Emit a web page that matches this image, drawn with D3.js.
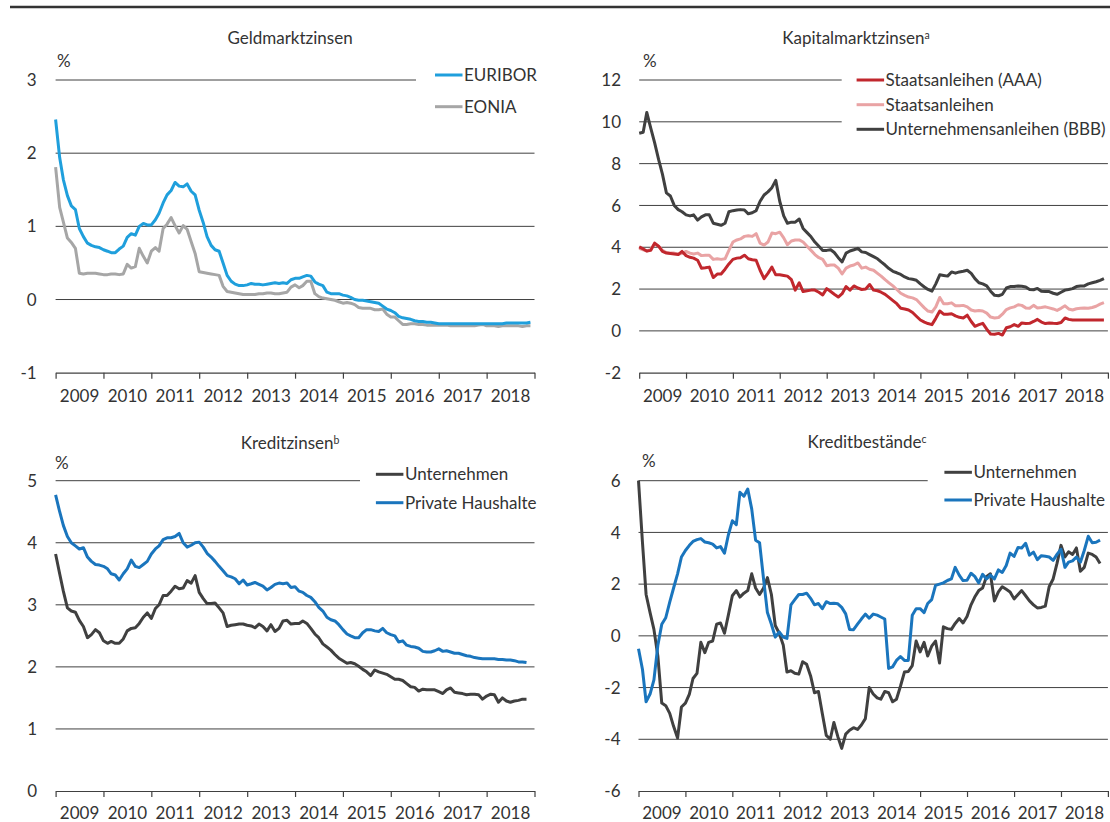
<!DOCTYPE html>
<html><head><meta charset="utf-8">
<script src="https://cdn.jsdelivr.net/npm/d3@7"></script>
<style>
body{margin:0;background:#fff;}
svg text{font-family:Lato,"Open Sans",sans-serif;fill:#333;}
</style></head><body>
<svg id="c" width="1110" height="822"></svg>
<script>
// ---------- data (monthly, starting January 2009) ----------
const years = [2009,2010,2011,2012,2013,2014,2015,2016,2017,2018];

// Geldmarktzinsen
const euribor = [2.46,1.94,1.64,1.42,1.28,1.23,0.97,0.86,0.77,0.74,0.72,0.71,
0.68,0.66,0.64,0.64,0.69,0.73,0.85,0.90,0.88,1.00,1.04,1.02,
1.02,1.09,1.18,1.32,1.43,1.49,1.60,1.55,1.54,1.58,1.48,1.43,
1.22,1.05,0.86,0.74,0.68,0.66,0.50,0.33,0.25,0.21,0.19,0.19,
0.20,0.22,0.21,0.21,0.20,0.21,0.22,0.23,0.22,0.23,0.22,0.27,
0.29,0.29,0.31,0.33,0.32,0.24,0.21,0.19,0.10,0.08,0.08,0.08,
0.06,0.05,0.03,0.00,-0.01,-0.01,-0.02,-0.03,-0.04,-0.05,-0.09,-0.13,
-0.15,-0.18,-0.23,-0.25,-0.26,-0.27,-0.29,-0.30,-0.30,-0.31,-0.31,-0.32,
-0.33,-0.33,-0.33,-0.33,-0.33,-0.33,-0.33,-0.33,-0.33,-0.33,-0.33,-0.33,
-0.33,-0.33,-0.33,-0.33,-0.33,-0.32,-0.32,-0.32,-0.32,-0.32,-0.32,-0.31];
const eonia = [1.81,1.26,1.06,0.84,0.78,0.70,0.36,0.35,0.36,0.36,0.36,0.35,
0.34,0.34,0.35,0.35,0.34,0.35,0.48,0.43,0.45,0.70,0.59,0.50,
0.66,0.71,0.66,0.97,1.03,1.12,1.01,0.91,1.01,0.96,0.79,0.63,
0.38,0.37,0.36,0.35,0.34,0.33,0.18,0.11,0.10,0.09,0.08,0.07,
0.07,0.07,0.07,0.08,0.08,0.09,0.09,0.08,0.08,0.09,0.10,0.17,
0.20,0.16,0.19,0.25,0.25,0.08,0.04,0.02,0.01,0.00,-0.01,-0.03,
-0.05,-0.04,-0.05,-0.07,-0.11,-0.12,-0.12,-0.12,-0.14,-0.14,-0.13,-0.20,
-0.24,-0.24,-0.29,-0.34,-0.34,-0.33,-0.33,-0.34,-0.34,-0.35,-0.35,-0.35,
-0.35,-0.35,-0.35,-0.36,-0.36,-0.36,-0.36,-0.36,-0.36,-0.36,-0.35,-0.34,
-0.36,-0.36,-0.36,-0.37,-0.36,-0.36,-0.36,-0.36,-0.36,-0.37,-0.36,-0.36];

// Kapitalmarktzinsen
const staatAAA = [4.02,3.92,3.82,3.85,4.2,4.05,3.8,3.72,3.7,3.68,3.65,3.8,
3.6,3.52,3.48,3.38,3.0,3.02,3.05,2.55,2.72,2.72,2.95,3.2,
3.42,3.48,3.5,3.62,3.45,3.4,3.38,2.9,2.5,2.75,3.05,2.68,
2.68,2.65,2.62,2.45,1.95,2.3,1.88,1.92,1.95,1.95,1.85,1.72,
2.02,1.88,1.75,1.62,1.78,2.12,1.95,2.15,2.05,1.98,2.0,2.22,
1.95,1.92,1.85,1.75,1.6,1.45,1.3,1.08,1.05,1.0,0.88,0.7,
0.52,0.42,0.35,0.3,0.6,0.95,0.8,0.8,0.82,0.72,0.65,0.62,
0.75,0.45,0.22,0.3,0.36,0.08,-0.15,-0.16,-0.12,-0.2,0.15,0.2,
0.3,0.22,0.38,0.35,0.36,0.45,0.55,0.42,0.35,0.38,0.36,0.35,
0.4,0.62,0.55,0.52,0.52,0.52,0.52,0.52,0.52,0.52,0.52,0.52];
const staat = [3.95,3.88,3.82,3.9,4.15,4.05,3.85,3.75,3.72,3.72,3.68,3.7,
3.8,3.72,3.68,3.72,3.6,3.62,3.62,3.42,3.45,3.42,3.45,3.85,
4.25,4.35,4.4,4.52,4.55,4.52,4.65,4.2,4.1,4.25,4.68,4.65,
4.72,4.45,4.12,4.3,4.35,4.35,4.25,4.05,3.85,3.65,3.5,3.42,
3.12,3.15,3.15,3.0,2.72,3.0,3.1,3.15,3.25,3.0,3.05,2.95,
2.9,2.75,2.62,2.45,2.3,2.15,1.98,1.8,1.7,1.62,1.58,1.5,
1.3,1.1,0.95,0.9,1.15,1.6,1.3,1.3,1.34,1.2,1.2,1.22,
1.15,1.0,0.95,0.98,0.95,0.85,0.66,0.62,0.64,0.8,1.02,1.1,
1.15,1.25,1.22,1.1,1.08,1.22,1.1,1.12,1.15,1.1,1.05,0.98,
1.08,1.2,1.05,1.0,1.06,1.08,1.1,1.08,1.12,1.18,1.28,1.35];
const untBBB = [9.45,9.5,10.45,9.7,9.0,8.2,7.5,6.6,6.45,6.0,5.8,5.7,
5.55,5.5,5.55,5.3,5.45,5.55,5.55,5.15,5.1,5.05,5.15,5.7,
5.75,5.78,5.8,5.78,5.6,5.65,5.75,6.2,6.5,6.65,6.85,7.2,
6.2,5.5,5.15,5.2,5.2,5.35,4.9,4.7,4.5,4.25,4.05,3.85,
3.85,3.88,3.75,3.5,3.3,3.72,3.82,3.88,3.95,3.78,3.75,3.65,
3.55,3.45,3.3,3.15,2.98,2.85,2.78,2.7,2.58,2.5,2.47,2.42,
2.25,2.1,1.98,1.9,2.25,2.68,2.65,2.62,2.82,2.76,2.82,2.85,
2.9,2.75,2.5,2.3,2.25,2.15,1.9,1.7,1.68,1.75,2.05,2.12,
2.12,2.15,2.13,2.1,1.98,1.97,2.03,1.9,1.88,1.88,1.8,1.75,
1.85,1.95,1.98,2.02,2.12,2.15,2.15,2.25,2.3,2.35,2.42,2.5];

// Kreditzinsen
const kzUnternehmen = [3.82,3.5,3.22,2.95,2.9,2.88,2.75,2.65,2.47,2.52,2.6,2.55,
2.42,2.38,2.41,2.38,2.38,2.45,2.58,2.62,2.63,2.7,2.8,2.87,
2.78,2.94,3.0,3.15,3.15,3.22,3.3,3.26,3.27,3.39,3.35,3.47,
3.2,3.1,3.02,3.02,3.03,2.95,2.87,2.65,2.67,2.68,2.69,2.69,
2.67,2.66,2.63,2.69,2.65,2.58,2.68,2.57,2.62,2.74,2.75,2.69,
2.7,2.7,2.74,2.7,2.62,2.53,2.47,2.37,2.32,2.27,2.2,2.14,
2.1,2.06,2.07,2.05,2.01,1.96,1.92,1.86,1.95,1.92,1.9,1.88,
1.84,1.8,1.8,1.78,1.73,1.68,1.67,1.61,1.64,1.63,1.63,1.63,
1.6,1.57,1.63,1.66,1.59,1.58,1.57,1.55,1.56,1.56,1.55,1.48,
1.53,1.56,1.55,1.43,1.5,1.45,1.43,1.45,1.46,1.48,1.48];
const kzHaushalte = [4.77,4.5,4.28,4.1,4.0,3.95,3.9,3.92,3.77,3.7,3.65,3.64,
3.62,3.58,3.5,3.48,3.4,3.5,3.58,3.72,3.62,3.6,3.65,3.7,
3.82,3.9,3.95,4.05,4.08,4.08,4.1,4.15,4.0,3.93,3.96,4.0,
4.01,3.93,3.83,3.77,3.7,3.62,3.55,3.47,3.45,3.42,3.34,3.4,
3.32,3.34,3.36,3.33,3.3,3.24,3.28,3.33,3.35,3.34,3.35,3.28,
3.29,3.22,3.2,3.15,3.12,3.05,2.96,2.9,2.8,2.76,2.74,2.68,
2.6,2.53,2.5,2.47,2.47,2.55,2.6,2.6,2.58,2.57,2.62,2.55,
2.52,2.5,2.4,2.42,2.35,2.33,2.32,2.3,2.25,2.24,2.24,2.26,
2.29,2.25,2.26,2.24,2.22,2.22,2.2,2.18,2.17,2.15,2.14,2.13,
2.13,2.13,2.13,2.12,2.12,2.11,2.11,2.1,2.08,2.08,2.07];

// Kreditbestände
const kbUnternehmen = [6.0,3.6,1.6,0.9,0.25,-0.8,-2.6,-2.7,-3.0,-3.5,-3.95,-2.75,
-2.6,-2.25,-1.65,-1.45,-0.25,-0.65,-0.25,-0.2,0.45,0.5,0.1,0.8,
1.55,1.75,1.5,1.65,1.75,2.4,1.85,1.6,1.85,2.25,1.6,0.4,
0.1,-0.35,-1.4,-1.35,-1.45,-1.48,-1.0,-1.1,-1.55,-2.2,-2.15,-3.0,
-3.85,-4.0,-3.35,-3.9,-4.35,-3.8,-3.65,-3.55,-3.62,-3.45,-3.2,-2.0,
-2.25,-2.4,-2.45,-2.15,-2.2,-2.55,-2.45,-1.95,-1.4,-1.38,-1.15,-0.2,
-0.62,-0.25,-0.78,-0.4,-0.2,-1.05,0.35,0.28,0.25,0.48,0.67,0.5,
0.75,1.2,1.5,1.75,1.85,2.3,2.4,1.35,1.7,1.9,1.8,1.7,
1.43,1.6,1.75,1.55,1.35,1.2,1.08,1.1,1.15,1.9,2.2,2.8,
3.5,3.05,3.25,3.15,3.4,2.5,2.65,3.2,3.15,3.05,2.8];
const kbHaushalte = [-0.5,-1.3,-2.55,-2.25,-1.7,-0.35,0.45,0.7,1.3,1.85,2.4,3.05,
3.3,3.5,3.65,3.72,3.76,3.63,3.6,3.55,3.4,3.45,3.2,3.9,
4.45,4.3,5.55,5.4,5.68,4.9,3.7,3.6,2.2,0.9,0.45,-0.05,
0.15,-0.05,-0.1,1.2,1.4,1.6,1.6,1.65,1.45,1.2,1.25,1.05,
1.32,1.25,1.26,1.24,1.1,0.85,0.25,0.24,0.45,0.65,0.84,0.68,
0.84,0.8,0.73,0.65,-1.26,-1.2,-0.95,-0.8,-0.95,-0.95,0.8,1.05,
1.05,0.9,1.25,1.4,1.95,2.0,2.05,2.14,2.2,2.65,2.35,2.14,
2.15,2.42,2.3,2.05,2.38,2.2,2.35,2.2,2.55,2.45,2.72,3.2,
3.07,3.42,3.4,3.58,3.12,3.24,2.95,3.1,3.08,3.05,2.92,3.15,
3.35,2.65,2.85,2.9,3.05,2.85,3.3,3.85,3.6,3.62,3.7];

// ---------- layout ----------
const C_DARK = "#404040";
const panels = [
 {title:"Geldmarktzinsen", sup:"", tx:290, ty:43.5,
  x0:55.6, x1:534.5, yTop:80, yBot:372.7, domain:[-1,3], ticks:[-1,0,1,2,3],
  cut:{3:416}, labX:36.7, pctX:57, pctY:66.5, yearY:402,
  legX:435, legY:[75,106.7],
  series:[{name:"EURIBOR",values:euribor,color:"#1f9fdc"},{name:"EONIA",values:eonia,color:"#a6a6a6"}],
  order:[1,0]},
 {title:"Kapitalmarktzinsen", sup:"a", tx:856, ty:43.5,
  x0:639.2, x1:1107.9, yTop:80, yBot:372.7, domain:[-2,12], ticks:[-2,0,2,4,6,8,10,12],
  cut:{12:841.7,10:841.7}, labX:621, pctX:643, pctY:66.5, yearY:402,
  legX:856.6, legY:[80,104.7,129.3],
  series:[{name:"Staatsanleihen (AAA)",values:staatAAA,color:"#c1272d"},
          {name:"Staatsanleihen",values:staat,color:"#e9a3a4"},
          {name:"Unternehmensanleihen (BBB)",values:untBBB,color:C_DARK}],
  order:[1,0,2]},
 {title:"Kreditzinsen", sup:"b", tx:290, ty:449.3,
  x0:55.6, x1:534.5, yTop:480.7, yBot:791, domain:[0,5], ticks:[0,1,2,3,4,5],
  cut:{5:360}, labX:37, pctX:55, pctY:469, yearY:818.5,
  legX:375.9, legY:[474.3,502.7],
  series:[{name:"Unternehmen",values:kzUnternehmen,color:C_DARK},{name:"Private Haushalte",values:kzHaushalte,color:"#1a75bd"}],
  order:[0,1]},
 {title:"Kreditbestände", sup:"c", tx:867, ty:447.5,
  x0:638.5, x1:1107.9, yTop:480.7, yBot:791, domain:[-6,6], ticks:[-6,-4,-2,0,2,4,6],
  cut:{6:927.7}, labX:620.5, pctX:642, pctY:467, yearY:818.5,
  legX:944.4, legY:[472.3,500],
  series:[{name:"Unternehmen",values:kbUnternehmen,color:C_DARK},{name:"Private Haushalte",values:kbHaushalte,color:"#1a75bd"}],
  order:[0,1]}
];

const FS = 17;
const svg = d3.select("#c");
svg.append("rect").attr("width",1110).attr("height",822).attr("fill","#fff");
svg.append("line").attr("x1",10).attr("x2",1110).attr("y1",7).attr("y2",7)
   .attr("stroke","#333").attr("stroke-width",2.5);

const t0 = new Date(2009,0,1), t1 = new Date(2019,0,1);
const monthDate = i => new Date(2009, i, 1);

panels.forEach(p => {
  const x = d3.scaleTime().domain([t0,t1]).range([p.x0,p.x1]);
  const y = d3.scaleLinear().domain(p.domain).range([p.yBot,p.yTop]);
  const g = svg.append("g");

  // gridlines
  p.ticks.filter(t => t !== p.domain[0]).forEach(t => {
    g.append("line").attr("x1",p.x0).attr("x2",p.cut[t] || p.x1)
      .attr("y1",y(t)).attr("y2",y(t)).attr("stroke",C_DARK).attr("stroke-width",1);
  });
  // y labels
  g.selectAll(".yl").data(p.ticks).enter().append("text")
    .attr("x",p.labX).attr("y",d=>y(d)).attr("dy","0.36em")
    .attr("text-anchor","end").attr("font-size",FS).text(d=>d);

  // x axis
  const ax = d3.axisBottom(x)
    .tickValues(d3.timeYear.range(t0, new Date(2019,0,2)))
    .tickSize(6).tickSizeOuter(0).tickFormat("");
  const axg = g.append("g").attr("transform",`translate(0,${p.yBot})`).call(ax);
  axg.selectAll("path,line").attr("stroke",C_DARK).attr("stroke-width",1.2);

  // year labels
  g.selectAll(".yr").data(years).enter().append("text")
    .attr("x",d=>(x(new Date(d,0,1))+x(new Date(d+1,0,1)))/2)
    .attr("y",p.yearY).attr("text-anchor","middle").attr("font-size",FS).text(d=>d);

  // series
  const line = d3.line().x((d,i)=>x(monthDate(i))).y(d=>y(d));
  p.order.forEach(k => {
    const s = p.series[k];
    g.append("path").datum(s.values).attr("d",line)
      .attr("fill","none").attr("stroke",s.color).attr("stroke-width",3)
      .attr("stroke-linejoin","round");
  });

  // legend
  p.series.forEach((s,k) => {
    g.append("line").attr("x1",p.legX).attr("x2",p.legX+27.5)
      .attr("y1",p.legY[k]).attr("y2",p.legY[k])
      .attr("stroke",s.color).attr("stroke-width",3);
    g.append("text").attr("x",p.legX+29).attr("y",p.legY[k]).attr("dy","0.36em")
      .attr("font-size",FS).text(s.name);
  });

  // title
  const tt = g.append("text").attr("x",p.tx).attr("y",p.ty)
    .attr("text-anchor","middle").attr("font-size",FS);
  tt.append("tspan").text(p.title);
  if (p.sup) tt.append("tspan").attr("font-size",10.5).attr("dy",-5).text(p.sup);

  // unit
  g.append("text").attr("x",p.pctX).attr("y",p.pctY).attr("font-size",FS).text("%");
});
</script>
</body></html>
